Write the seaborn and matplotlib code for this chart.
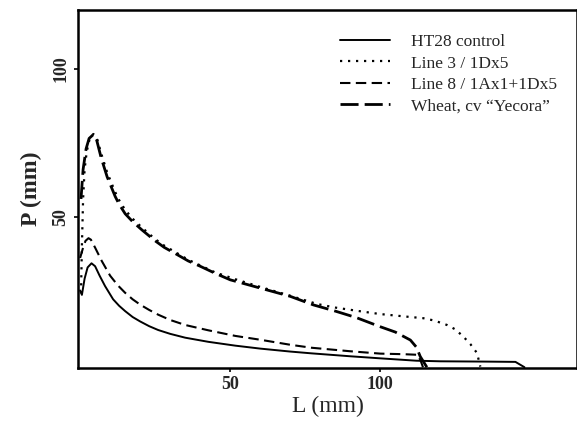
import numpy as np
import pandas as pd
import seaborn as sns
import matplotlib
matplotlib.use("Agg")
import matplotlib.pyplot as plt

# curve values (L in mm, P in mm)
ht28_L = [0.0, 0.6, 1.5, 2.5, 3.8, 5.0, 6.5, 8.3, 11.0, 13.0, 15.0, 17.5, 20.0, 23.0, 26.0, 30.0,
          35.0, 42.7, 51.7, 60.0, 70.0, 77.0, 90.0, 100.0, 112.0, 120.0, 135.0, 145.0, 148.0]
ht28_P = [25.0, 23.5, 29.0, 32.8, 34.2, 33.2, 30.0, 26.5, 22.0, 19.8, 18.0, 16.0, 14.5, 12.9, 11.6, 10.3,
          9.0, 7.6, 6.3, 5.3, 4.3, 3.7, 2.7, 2.0, 1.2, 1.0, 0.9, 0.8, -1.0]

line3_L = [0.3, 0.6, 1.0, 1.5, 2.2, 3.2, 4.4, 5.5, 7.0, 9.0, 11.7, 13.0, 15.0, 17.5, 20.6, 25.0, 28.0,
           31.7, 36.0, 40.0, 45.0, 51.7, 60.0, 70.0, 79.0, 85.0, 94.3, 100.0, 108.0, 114.3, 118.0,
           122.2, 125.0, 127.7, 130.0, 132.2, 133.3]
line3_P = [24.0, 40.0, 56.0, 66.0, 72.0, 76.5, 78.0, 77.0, 71.5, 65.0, 58.3, 55.6, 52.3, 49.3, 46.3, 42.4, 40.2,
           38.0, 35.4, 33.5, 31.1, 28.8, 26.2, 23.2, 20.4, 19.2, 17.8, 17.0, 16.2, 15.6, 14.8,
           13.3, 11.8, 9.3, 6.8, 3.8, -0.8]

line8_L = [0.0, 1.0, 1.8, 2.8, 3.6, 5.0, 7.2, 10.0, 12.5, 15.0, 17.5, 20.0, 23.0, 26.0, 30.0, 35.0,
           42.7, 51.7, 60.0, 70.0, 77.0, 90.0, 100.0, 108.0, 112.5, 113.5, 114.2]
line8_P = [36.0, 39.5, 41.8, 42.7, 42.2, 39.5, 35.0, 30.0, 26.8, 24.2, 22.0, 20.2, 18.4, 16.8, 15.0, 13.3,
           11.5, 9.6, 8.3, 6.6, 5.6, 4.4, 3.6, 3.4, 3.2, 1.0, -1.0]

wheat_L = [0.3, 1.0, 2.0, 3.0, 4.4, 5.5, 7.0, 9.0, 11.7, 13.0, 15.0, 17.5, 20.6, 25.0, 28.0, 31.7,
           36.0, 40.0, 45.0, 50.0, 60.0, 70.0, 77.7, 85.0, 92.0, 100.0, 105.0, 110.0, 112.0, 113.3, 115.5]
wheat_P = [56.0, 66.0, 73.0, 76.5, 77.8, 76.0, 70.0, 63.5, 56.8, 54.2, 51.0, 48.3, 45.5, 41.8, 39.6, 37.5,
           35.0, 33.2, 30.8, 28.6, 25.8, 23.0, 20.1, 18.0, 15.8, 12.7, 10.9, 8.2, 5.8, 2.6, -1.0]

labels = ["HT28 control", "Line 3 / 1Dx5", "Line 8 / 1Ax1+1Dx5", "Wheat, cv \u201cYecora\u201d"]

sns.set_style("ticks")
plt.rcParams["font.family"] = ["Liberation Serif", "DejaVu Serif"]

fig = plt.figure(figsize=(5.77, 4.28), dpi=100)
ax = fig.add_axes([78 / 577, 1 - 367.5 / 428, 1 - 78 / 577, (367.5 - 10) / 428])

curves = [
    (ht28_L, ht28_P, dict(linewidth=1.4)),
    (line3_L, line3_P, dict(linewidth=1.6, dashes=(1.0, 2.6))),
    (line8_L, line8_P, dict(linewidth=1.5, dashes=(5.0, 2.6))),
    (wheat_L, wheat_P, dict(linewidth=2.0, dashes=(6.5, 2.2))),
]
for (L, P, style), lab in zip(curves, labels):
    df = pd.DataFrame({"L": L, "P": P})
    line_kw = dict(style)
    dashes = line_kw.pop("dashes", None)
    sns.lineplot(data=df, x="L", y="P", ax=ax, color="black", label=lab,
                 sort=False, estimator=None, **line_kw)
    if dashes is not None:
        ax.lines[-1].set_dashes(dashes)

ax.set_xlim(-0.7, 165.5)
ax.set_ylim(-1.1, 120)
ax.set_xticks([50, 100])
ax.set_yticks([50, 100])
ax.set_xticklabels(["50", "100"], fontsize=13, fontweight="bold")
ax.set_yticklabels(["50", "100"], fontsize=13, fontweight="bold", rotation=90, va="center")
ax.tick_params(axis="both", length=3, width=1.2, color="black", pad=3)

for sp in ax.spines.values():
    sp.set_linewidth(1.8)
    sp.set_color("black")

ax.set_xlabel("L (mm)", fontsize=17, labelpad=2)
ax.set_ylabel("P (mm)", fontsize=17, fontweight="bold", labelpad=8)

leg = ax.legend(loc="upper left", bbox_to_anchor=(340 / 577, 1 - 34 / 428),
                bbox_transform=fig.transFigure, frameon=False, fontsize=12.5,
                handlelength=2.9, handletextpad=1.2, labelspacing=0.3,
                borderpad=0, borderaxespad=0)

fig.savefig("out.png", dpi=100)
